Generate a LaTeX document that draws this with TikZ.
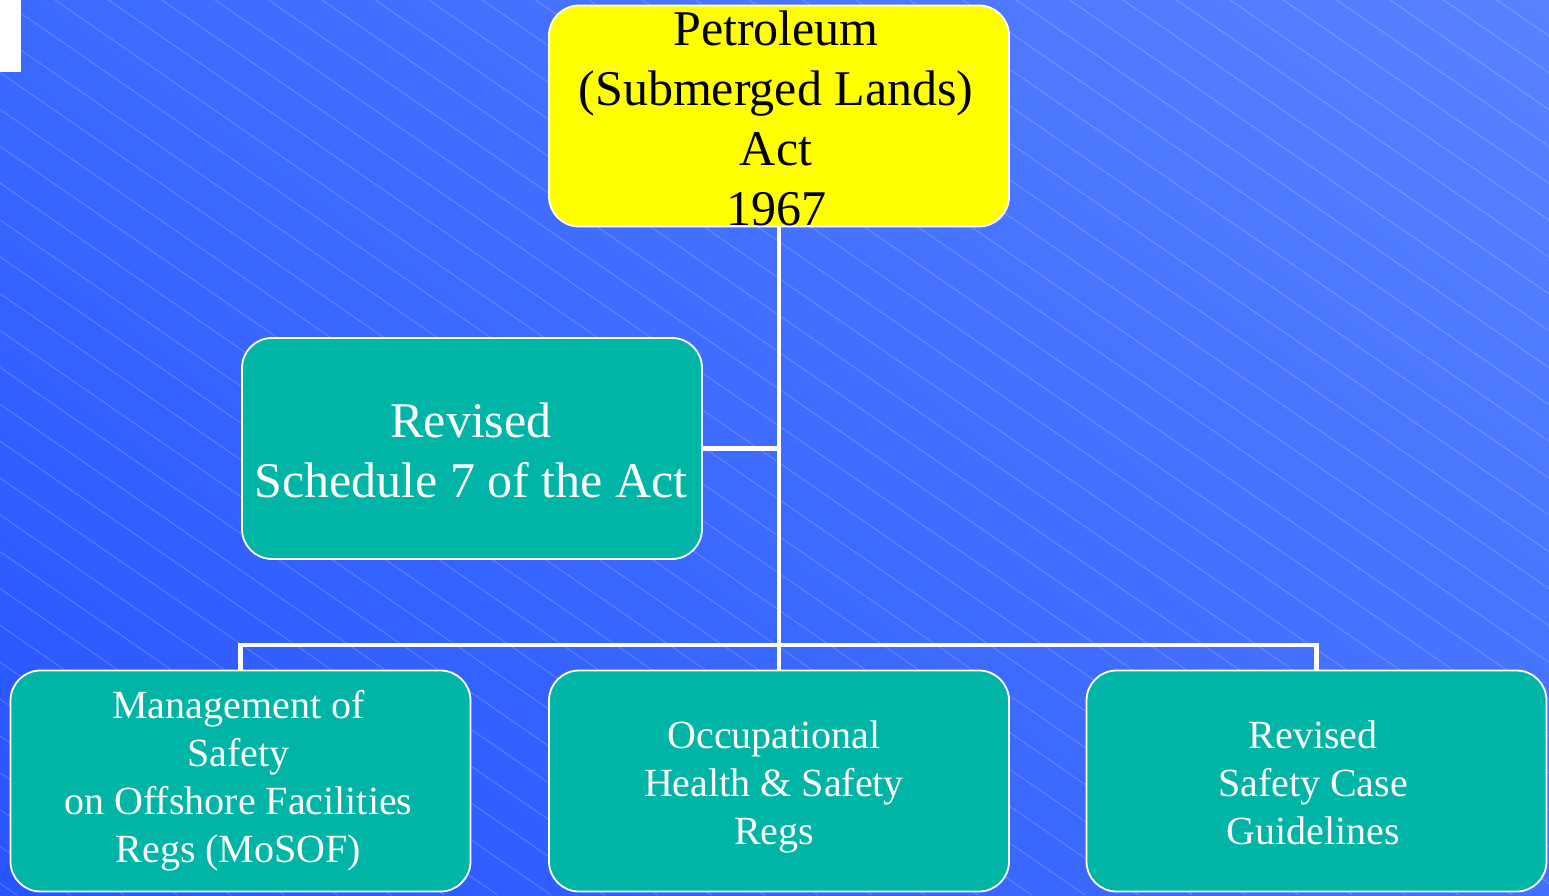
\documentclass[tikz,border=0pt]{standalone}
\usepackage{fontspec}
\setmainfont{Liberation Serif}
\usetikzlibrary{shadings}
\definecolor{tealbox}{RGB}{0,181,166}
\definecolor{yellowbox}{RGB}{255,255,0}
\definecolor{bgLL}{RGB}{38,84,255}
\definecolor{bgUL}{RGB}{60,105,255}
\definecolor{bgLR}{RGB}{66,112,255}
\definecolor{bgUR}{RGB}{88,130,255}
\tikzset{
  box/.style={draw=white, line width=1.8pt, rounded corners=30pt, minimum width=460pt, minimum height=221pt, inner sep=0pt},
  greenbox/.style={box, fill=tealbox},
  label/.style={align=center, inner sep=0pt},
  bigtext/.style={label, font=\fontsize{50}{60}\selectfont},
  smalltext/.style={label, text=white, font=\fontsize{40}{48}\selectfont},
  conn/.style={draw=white, line width=4.5pt},
  hatch/.style={draw=white, draw opacity=0.25, line width=0.7pt}
}
\begin{document}
\begin{tikzpicture}[x=1pt,y=1pt]
\useasboundingbox (0,0) rectangle (1549,895);
\shade[lower left=bgLL, upper left=bgUL, lower right=bgLR, upper right=bgUR] (0,0) rectangle (1549,895);
\begin{scope}
\clip (0,0) rectangle (1549,895);
\foreach \k in {-26,...,29} {
  \draw[hatch] ({55+53.4*\k},895) -- ++(1297,-895);
}
\end{scope}
\fill[white] (0,823) rectangle (21,895);
% boxes
\node[box, fill=yellowbox] (top) at (779,779) {};
\node[greenbox] (sched) at (472,446.5) {};
\node[greenbox] (b1) at (240.5,114) {};
\node[greenbox] (b2) at (779,114) {};
\node[greenbox] (b3) at (1316.5,114) {};
% connectors
\coordinate (bar) at (779,250);
\draw[conn] (top.south) -- (b2.north);
\draw[conn] (sched.east) -- (sched.east -| top.south);
\draw[conn] (b1.north) -- (b1.north |- bar) -- (b3.north |- bar) -- (b3.north);
% texts
\node[bigtext, text=black] (toptext) at (776,777) {Petroleum\\(Submerged Lands)\\Act\\1967};
\node[bigtext, text=white] (schedtext) at (471,444.5) {Revised\\Schedule 7 of the Act};
\node[smalltext] (t1) at (238.5,114) {Management of\\Safety\\on Offshore Facilities\\Regs (MoSOF)};
\node[smalltext] (t2) at (774,108) {Occupational\\Health \& Safety\\Regs};
\node[smalltext] (t3) at (1313,112) {Revised\\Safety Case\\Guidelines};
\end{tikzpicture}
\end{document}
